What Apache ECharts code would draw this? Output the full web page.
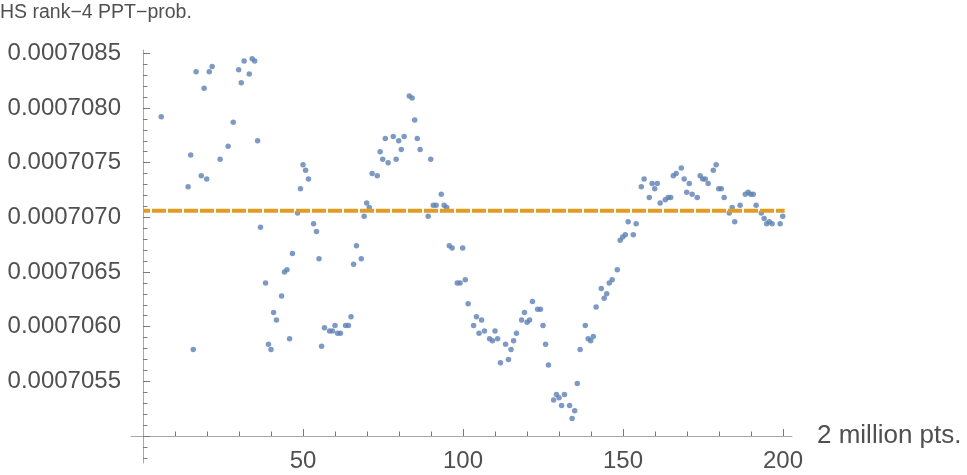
<!DOCTYPE html>
<html>
<head>
<meta charset="utf-8">
<script src="https://cdn.jsdelivr.net/npm/echarts@6/dist/echarts.min.js"></script>
<style>
  html, body { margin: 0; padding: 0; background: #fff; }
  #chart { width: 967px; height: 475px; }
</style>
</head>
<body>
<div id="chart"></div>
<script>
// sample index (x) and probability
var xs = [
  5.7, 14.1, 14.9, 15.7, 16.6, 18.2, 19.1, 19.9, 20.7, 21.6,
  24.1, 26.6, 28.2, 29.9, 30.7, 31.6, 33.2, 34.1, 34.9, 35.8,
  36.7, 38.3, 39.2, 40.0, 40.8, 41.7, 43.3, 44.2, 45.0, 45.8,
  46.7, 48.3, 49.2, 50.0, 50.8, 51.7, 53.3, 54.2, 55.0, 55.8,
  56.7, 58.3, 59.2, 60.0, 60.8, 61.7, 63.3, 64.2, 65.0, 65.8,
  66.7, 68.2, 69.1, 69.9, 70.7, 71.6, 73.2, 74.1, 74.9, 75.7,
  76.6, 78.2, 79.1, 79.9, 80.7, 81.6, 83.2, 84.1, 84.9, 85.7,
  86.6, 89.1, 89.9, 90.7, 91.6, 93.2, 94.1, 94.9, 95.7, 96.6,
  98.2, 99.1, 99.9, 100.7, 101.6, 103.3, 104.2, 105.0, 105.8, 106.7,
  108.3, 109.2, 110.0, 110.8, 111.7, 113.3, 114.2, 115.0, 115.8, 116.7,
  118.3, 119.2, 120.0, 120.8, 121.7, 123.3, 124.2, 125.0, 125.8, 126.7,
  128.3, 129.2, 130.0, 130.8, 131.7, 133.3, 134.1, 134.9, 135.7, 136.6,
  138.2, 139.1, 139.9, 140.7, 141.6, 143.2, 144.1, 144.9, 145.7, 146.6,
  148.2, 149.1, 149.9, 150.7, 151.6, 153.2, 154.1, 155.7, 156.6, 158.2,
  159.1, 159.9, 160.7, 161.6, 163.2, 164.1, 164.9, 165.7, 166.6, 168.2,
  169.1, 169.9, 170.7, 171.6, 173.2, 174.1, 174.9, 175.7, 176.6, 178.2,
  179.1, 179.9, 180.7, 181.6, 183.2, 184.1, 184.9, 186.6, 188.2, 189.1,
  189.9, 190.7, 191.6, 193.2, 194.1, 194.9, 195.7, 196.6, 199.1, 199.9
]
var probs = [
  0.00070792, 0.00070728, 0.00070757, 0.00070579, 0.00070833, 0.00070738, 0.00070818, 0.00070735, 0.00070833, 0.00070838,
  0.00070753, 0.00070765, 0.00070787, 0.00070835, 0.00070823, 0.00070843, 0.00070831, 0.00070845, 0.00070843, 0.00070770,
  0.00070691, 0.00070640, 0.00070584, 0.00070579, 0.00070613, 0.00070606, 0.00070628, 0.00070650, 0.00070652, 0.00070589,
  0.00070667, 0.00070704, 0.00070726, 0.00070748, 0.00070743, 0.00070735, 0.00070694, 0.00070687, 0.00070662, 0.00070582,
  0.00070599, 0.00070596, 0.00070596, 0.00070601, 0.00070594, 0.00070594, 0.00070601, 0.00070601, 0.00070609, 0.00070657,
  0.00070674, 0.00070662, 0.00070701, 0.00070713, 0.00070709, 0.00070740, 0.00070738, 0.00070760, 0.00070753, 0.00070772,
  0.00070750, 0.00070774, 0.00070753, 0.00070770, 0.00070762, 0.00070774, 0.00070811, 0.00070809, 0.00070789, 0.00070772,
  0.00070762, 0.00070701, 0.00070753, 0.00070711, 0.00070711, 0.00070721, 0.00070711, 0.00070709, 0.00070674, 0.00070672,
  0.00070640, 0.00070640, 0.00070672, 0.00070643, 0.00070621, 0.00070601, 0.00070609, 0.00070594, 0.00070606, 0.00070596,
  0.00070589, 0.00070587, 0.00070596, 0.00070589, 0.00070567, 0.00070584, 0.00070570, 0.00070579, 0.00070587, 0.00070594,
  0.00070606, 0.00070613, 0.00070604, 0.00070606, 0.00070623, 0.00070616, 0.00070616, 0.00070601, 0.00070584, 0.00070565,
  0.00070533, 0.00070538, 0.00070535, 0.00070528, 0.00070538, 0.00070528, 0.00070516, 0.00070523, 0.00070548, 0.00070579,
  0.00070601, 0.00070589, 0.00070587, 0.00070591, 0.00070618, 0.00070635, 0.00070626, 0.00070630, 0.00070640, 0.00070643,
  0.00070652, 0.00070679, 0.00070682, 0.00070684, 0.00070696, 0.00070684, 0.00070694, 0.00070728, 0.00070735, 0.00070718,
  0.00070731, 0.00070726, 0.00070731, 0.00070713, 0.00070716, 0.00070718, 0.00070718, 0.00070738, 0.00070740, 0.00070745,
  0.00070735, 0.00070723, 0.00070731, 0.00070721, 0.00070718, 0.00070738, 0.00070735, 0.00070735, 0.00070731, 0.00070743,
  0.00070748, 0.00070726, 0.00070726, 0.00070718, 0.00070704, 0.00070709, 0.00070696, 0.00070711, 0.00070721, 0.00070723,
  0.00070721, 0.00070721, 0.00070711, 0.00070704, 0.00070699, 0.00070694, 0.00070696, 0.00070694, 0.00070694, 0.00070701
]
// orange reference level and its x span
var refLevel = 0.00070706
var refSpan = [0, 200.5]

var xMajor = [50, 100, 150, 200]
var xMinor = [10, 20, 30, 40, 60, 70, 80, 90, 110, 120, 130, 140, 160, 170, 180, 190]
var yMajor = [0.000705, 0.0007055, 0.000706, 0.0007065, 0.000707, 0.0007075, 0.000708, 0.0007085]
var yMinor = []      // inside the plot
var yMinorBelow = [] // below the x axis
for (var k = 7048; k <= 7085; k++) {
  if (k % 5 === 0) continue
  if (k < 7050) yMinorBelow.push(k * 1e-7)
  else yMinor.push(k * 1e-7)
}

var chart = echarts.init(document.getElementById('chart'))
var font = 'Liberation Sans, Arial, sans-serif'
var axisGray = '#a8a8a8'
var tickGray = '#7a7a7a'
var labelGray = '#505050'

var pts = xs.map(function (x, i) { return [x, probs[i]] })

var xMin = -3.75
var xMax = 202.8
var yTop = 0.00070853
var yCross = 0.000705
var yBottom = 0.00070476

chart.setOption({
  animation: false,
  title: {
    text: 'HS rank\u22124 PPT\u2212prob.',
    left: 0,
    top: 3,
    padding: 0,
    textStyle: { fontFamily: font, fontSize: 19.5, fontWeight: 'normal', color: labelGray }
  },
  grid: [
    { left: 131, right: 175, top: 50, height: 386, outerBoundsMode: 'none', containLabel: false },
    // small strip under the x axis, only for the y axis stub
    { left: 131, right: 175, top: 436, height: 27, outerBoundsMode: 'none', containLabel: false }
  ],
  xAxis: [
    {
      gridIndex: 0,
      type: 'value',
      min: xMin,
      max: xMax,
      position: 'bottom',
      name: '2 million pts.',
      nameLocation: 'end',
      nameGap: 25,
      nameTextStyle: { fontFamily: font, fontSize: 26, color: labelGray, verticalAlign: 'middle' },
      axisLine: { onZero: false, lineStyle: { color: axisGray, width: 1 } },
      axisTick: { inside: true, length: 7, customValues: xMajor, lineStyle: { color: tickGray } },
      axisLabel: { customValues: xMajor, margin: 13, fontFamily: font, fontSize: 24, color: labelGray },
      splitLine: { show: false }
    },
    {
      gridIndex: 0,
      type: 'value',
      min: xMin,
      max: xMax,
      position: 'bottom',
      axisLine: { show: false, onZero: false },
      axisTick: { inside: true, length: 4.5, customValues: xMinor, lineStyle: { color: tickGray } },
      axisLabel: { show: false },
      splitLine: { show: false }
    },
    {
      gridIndex: 1,
      type: 'value',
      show: false,
      min: xMin,
      max: xMax
    }
  ],
  yAxis: [
    {
      gridIndex: 0,
      type: 'value',
      min: yCross,
      max: yTop,
      position: 'left',
      axisLine: { onZero: true, onZeroAxisIndex: 0, lineStyle: { color: axisGray, width: 1 } },
      axisTick: { inside: true, length: 7, customValues: yMajor, lineStyle: { color: tickGray } },
      axisLabel: {
        customValues: yMajor.slice(1),
        margin: 10,
        fontFamily: font,
        fontSize: 24,
        color: labelGray,
        formatter: function (v) { return v.toFixed(7) }
      },
      splitLine: { show: false }
    },
    {
      gridIndex: 0,
      type: 'value',
      min: yCross,
      max: yTop,
      position: 'left',
      axisLine: { show: false, onZero: true, onZeroAxisIndex: 0 },
      axisTick: { inside: true, length: 4.5, customValues: yMinor, lineStyle: { color: tickGray } },
      axisLabel: { show: false },
      splitLine: { show: false }
    },
    {
      gridIndex: 1,
      type: 'value',
      min: yBottom,
      max: yCross,
      position: 'left',
      axisLine: { onZero: true, onZeroAxisIndex: 2, lineStyle: { color: axisGray, width: 1 } },
      axisTick: { inside: true, length: 4.5, customValues: yMinorBelow, lineStyle: { color: tickGray } },
      axisLabel: { show: false },
      splitLine: { show: false }
    }
  ],
  series: [
    {
      type: 'scatter',
      xAxisIndex: 0,
      yAxisIndex: 0,
      symbol: 'circle',
      symbolSize: 5.5,
      itemStyle: { color: '#5E81B5' },
      data: pts,
      z: 2
    },
    {
      type: 'line',
      xAxisIndex: 0,
      yAxisIndex: 0,
      symbol: 'none',
      data: refSpan.map(function (x) { return [x, refLevel] }),
      lineStyle: { color: '#E09C24', width: 4, type: [14, 2], dashOffset: 7, cap: 'butt' },
      z: 3
    }
  ]
})
</script>
</body>
</html>
